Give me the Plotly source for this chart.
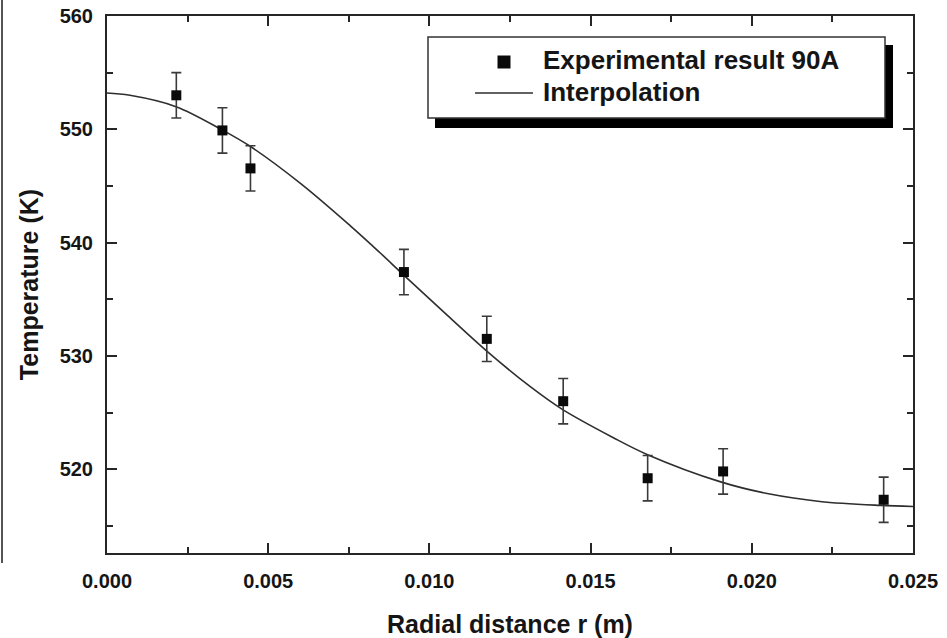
import plotly.graph_objects as go

# Measured temperatures (K) at radial positions (m), with +/- uncertainty
r_exp = [0.00215, 0.00358, 0.00445, 0.00921, 0.01178, 0.01415, 0.01677, 0.01911, 0.02409]
T_exp = [553.0, 549.9, 546.55, 537.4, 531.5, 526.0, 519.2, 519.8, 517.3]
T_err = [2.0, 2.0, 2.0, 2.0, 2.0, 2.0, 2.0, 2.0, 2.0]

# Interpolated temperature profile
r_fit = [0.0, 0.00071, 0.00214, 0.00357, 0.00444, 0.00599, 0.00754, 0.00847, 0.00918,
         0.01055, 0.01179, 0.01312, 0.01411, 0.01569, 0.01675, 0.01901, 0.02056,
         0.02211, 0.02398, 0.025]
T_fit = [553.2, 553.0, 552.0, 549.95, 548.5, 545.25, 541.5, 539.1, 537.2,
         533.6, 530.4, 527.3, 525.3, 522.8, 521.3, 518.9, 517.8,
         517.15, 516.8, 516.7]

x_ticks = [0.0, 0.005, 0.010, 0.015, 0.020, 0.025]
y_ticks = [520, 530, 540, 550, 560]

series_names = ["Experimental result 90A", "Interpolation"]

FONT = "Liberation Sans, Arial, sans-serif"
INK = "#151515"
AXIS = "#262626"

# plot-area geometry in pixels (used to place the legend decorations)
W, H = 947, 638
L, R, T, B = 107, 913, 16, 553


def px(xp):
    return (xp - L) / (R - L)


def py(yp):
    return (B - yp) / (B - T)


fig = go.Figure()

fig.add_trace(go.Scatter(
    x=r_fit, y=T_fit, mode="lines", name=series_names[1],
    line=dict(color="#2e2e2e", width=1.6, shape="spline", smoothing=1.0),
    showlegend=False, hoverinfo="skip",
))

fig.add_trace(go.Scatter(
    x=r_exp, y=T_exp, mode="markers", name=series_names[0],
    marker=dict(symbol="square", size=10, color="#0a0a0a"),
    error_y=dict(type="data", array=T_err, visible=True, color="#3a3a3a",
                 thickness=1.6, width=5),
    showlegend=False,
))

shapes = [
    # legend drop shadow
    dict(type="rect", xref="paper", yref="paper",
         x0=px(435), x1=px(893), y0=py(128), y1=py(45),
         fillcolor="#000000", line=dict(width=0), layer="above"),
    # legend box
    dict(type="rect", xref="paper", yref="paper",
         x0=px(428), x1=px(885), y0=py(118), y1=py(37),
         fillcolor="#ffffff", line=dict(color="#333333", width=1.5), layer="above"),
    # legend symbol: square marker
    dict(type="rect", xref="paper", yref="paper",
         x0=px(497.5), x1=px(510.5), y0=py(68.5), y1=py(55.5),
         fillcolor="#0a0a0a", line=dict(width=0), layer="above"),
    # legend symbol: line
    dict(type="line", xref="paper", yref="paper",
         x0=px(475), x1=px(533), y0=py(93), y1=py(93),
         line=dict(color="#2e2e2e", width=1.6), layer="above"),
    # thin frame edge at the far left of the panel
    dict(type="line", xref="paper", yref="paper",
         x0=px(2), x1=px(2), y0=py(563), y1=py(0),
         line=dict(color="#555555", width=2), layer="above"),
]

annotations = [
    dict(text=series_names[0], xref="paper", yref="paper", x=px(541), y=py(60),
         xanchor="left", yanchor="middle", showarrow=False,
         font=dict(family=FONT, size=26, color=INK, weight="bold")),
    dict(text=series_names[1], xref="paper", yref="paper", x=px(541), y=py(92),
         xanchor="left", yanchor="middle", showarrow=False,
         font=dict(family=FONT, size=26, color=INK, weight="bold")),
]

axis_common = dict(
    showline=True, linecolor=AXIS, linewidth=2, mirror="ticks",
    ticks="inside", ticklen=10, tickwidth=1.6, tickcolor=AXIS,
    showgrid=False, zeroline=False, automargin=False,
    tickfont=dict(family=FONT, size=20, color=INK, weight="bold"),
)

fig.update_layout(
    width=W, height=H,
    margin=dict(l=L, r=W - R, t=T, b=H - B),
    paper_bgcolor="#ffffff", plot_bgcolor="#ffffff",
    font=dict(family=FONT, color=INK),
    shapes=shapes, annotations=annotations,
    xaxis=dict(
        range=[0, 0.025], tickvals=x_ticks,
        ticktext=[f"{v:.3f}" for v in x_ticks],
        minor=dict(ticks="inside", ticklen=6, tickwidth=1.5, tickcolor=AXIS, dtick=0.0025, tick0=0),
        ticklabelstandoff=9,
        title=dict(text="Radial distance r (m)", standoff=33,
                   font=dict(family=FONT, size=25, color=INK, weight="bold")),
        **axis_common,
    ),
    yaxis=dict(
        range=[512.6, 560], tickvals=y_ticks,
        ticktext=[str(v) for v in y_ticks],
        minor=dict(ticks="inside", ticklen=6, tickwidth=1.5, tickcolor=AXIS, dtick=5, tick0=520),
        ticklabelstandoff=8,
        title=dict(text="Temperature (K)", standoff=14,
                   font=dict(family=FONT, size=25, color=INK, weight="bold")),
        **axis_common,
    ),
)

fig.write_html("out.html")
